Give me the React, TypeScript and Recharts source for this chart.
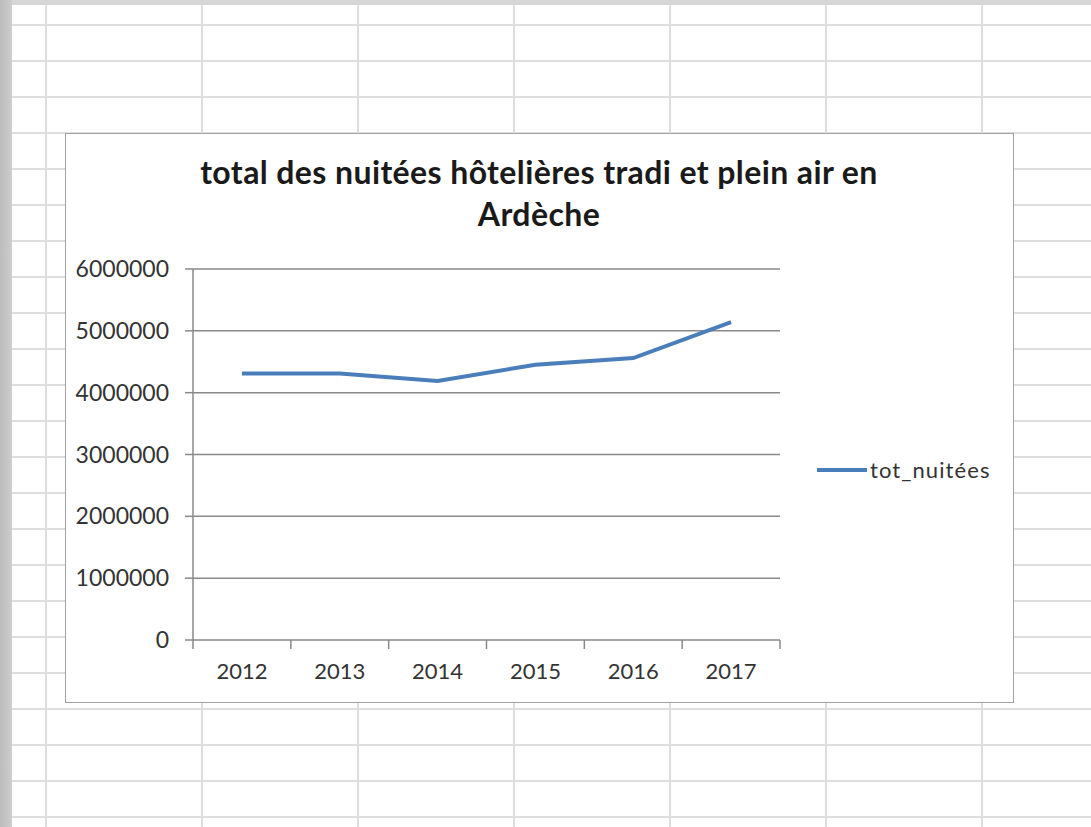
import React from 'react';
import { LineChart, Line, XAxis, YAxis, CartesianGrid } from 'recharts';

// Values
const years = ['2012', '2013', '2014', '2015', '2016', '2017'];
const totNuitees = [4310000, 4310000, 4190000, 4450000, 4560000, 5140000];
const yTicks = [0, 1000000, 2000000, 3000000, 4000000, 5000000, 6000000];

const SERIES_NAME = 'tot_nuitées';
const TITLE_1 = 'total des nuitées hôtelières tradi et plein air en';
const TITLE_2 = 'Ardèche';

const data = years.map((year, i) => ({ year, tot_nuitees: totNuitees[i] }));

const BLUE = '#4a7ebb';
const AXIS = '#898989';
const TEXT = '#333333';
const FONT = 'Lato, "Open Sans", sans-serif';

// spreadsheet cells behind the chart
const sheetBg = {
  position: 'absolute' as const,
  left: 0,
  top: 0,
  width: 1091,
  height: 827,
  overflow: 'hidden',
  backgroundColor: '#ffffff',
  backgroundImage:
    'linear-gradient(to right, #dedede 0px, #dedede 2px, transparent 2px), linear-gradient(to bottom, #dedede 0px, #dedede 2px, transparent 2px)',
  backgroundSize: '156px 36px',
  backgroundPosition: '45px 24px',
};

// category label plus Excel-style tick marks on the band edges
const BandTick = (props: any) => {
  const { x, y, payload, index } = props;
  const half = payload.offset || 0;
  const last = index === years.length - 1;
  return (
    <g>
      <line x1={x - half} y1={y} x2={x - half} y2={y + 9} stroke={AXIS} strokeWidth={1.5} />
      {last && <line x1={x + half} y1={y} x2={x + half} y2={y + 9} stroke={AXIS} strokeWidth={1.5} />}
      <text x={x} y={y + 23} dy="0.71em" textAnchor="middle" fontSize={22} fill={TEXT} fontFamily={FONT}>
        {payload.value}
      </text>
    </g>
  );
};

const App = () => (
  <div style={sheetBg}>
    <div style={{ position: 'absolute', left: 0, top: 0, width: 1091, height: 5, background: '#d6d6d6' }} />
    <div style={{ position: 'absolute', left: 0, top: 0, width: 12, height: 827, background: 'linear-gradient(to right, #bdbdbd, #cdcdcd)' }} />

    <div
      style={{
        position: 'absolute',
        left: 65,
        top: 133,
        width: 949,
        height: 570,
        background: '#fff',
        border: '1px solid #a2a2a2',
        boxSizing: 'border-box',
        fontFamily: FONT,
      }}
    >
      <div
        style={{
          position: 'absolute',
          left: 0,
          top: 17,
          width: 949,
          textAlign: 'center',
          fontWeight: 700,
          fontSize: 32,
          letterSpacing: 0.4,
          lineHeight: '42px',
          color: '#1a1a1a',
        }}
      >
        <div style={{ marginLeft: -3 }}>{TITLE_1}</div>
        <div style={{ marginLeft: -3 }}>{TITLE_2}</div>
      </div>

      <div style={{ position: 'absolute', left: 0, top: 0 }}>
        <LineChart
          width={947}
          height={568}
          data={data}
          margin={{ top: 135, right: 233, left: 0, bottom: 0 }}
        >
          <CartesianGrid horizontal vertical={false} stroke={AXIS} strokeWidth={1.5} />
          <XAxis
            dataKey="year"
            scale="band"
            axisLine={false}
            tickLine={false}
            tickSize={0}
            tickMargin={0}
            height={62}
            interval={0}
            tick={<BandTick />}
          />
          <YAxis
            width={127}
            domain={[0, 6000000]}
            ticks={yTicks}
            tickFormatter={(v: number) => String(v)}
            tickSize={8}
            tickMargin={16}
            axisLine={{ stroke: AXIS, strokeWidth: 1.5 }}
            tickLine={{ stroke: AXIS, strokeWidth: 1.5 }}
            tick={{ fontSize: 23, fill: TEXT, fontFamily: FONT }}
          />
          <Line
            type="linear"
            dataKey="tot_nuitees"
            name={SERIES_NAME}
            stroke={BLUE}
            strokeWidth={4}
            dot={false}
            isAnimationActive={false}
          />
        </LineChart>
      </div>

      <div style={{ position: 'absolute', left: 751, top: 323, display: 'flex', alignItems: 'center' }}>
        <svg width={50} height={8}>
          <line x1={0} y1={4} x2={50} y2={4} stroke={BLUE} strokeWidth={4} />
        </svg>
        <span style={{ fontSize: 22, letterSpacing: 1.1, color: TEXT, marginLeft: 3, lineHeight: '26px' }}>{SERIES_NAME}</span>
      </div>
    </div>
  </div>
);

export default App;
